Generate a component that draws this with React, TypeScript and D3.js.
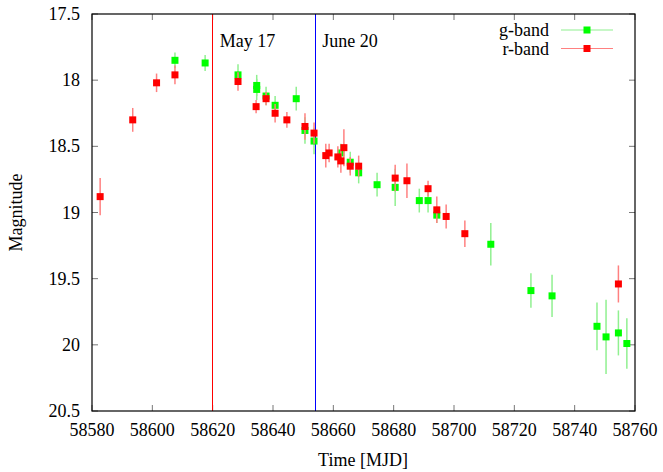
import * as d3 from 'd3';

// g-band observations
const gMjd = [58607.5, 58617.5, 58628.4, 58634.6, 58634.6, 58637.7, 58640.7, 58647.7, 58650.6, 58653.6, 58662.5, 58665.6, 58668.4, 58674.5, 58680.5, 58688.5, 58691.4, 58694.3, 58712.2, 58725.5, 58732.5, 58747.4, 58750.4, 58754.5, 58757.3];
const gMag = [17.85, 17.87, 17.96, 18.04, 18.07, 18.12, 18.19, 18.14, 18.38, 18.46, 18.55, 18.62, 18.7, 18.79, 18.81, 18.91, 18.91, 19.02, 19.24, 19.59, 19.63, 19.86, 19.94, 19.91, 19.99];
const gErr = [0.06, 0.06, 0.08, 0.08, 0.08, 0.07, 0.07, 0.09, 0.1, 0.1, 0.07, 0.08, 0.08, 0.09, 0.14, 0.09, 0.09, 0.06, 0.16, 0.13, 0.16, 0.18, 0.28, 0.17, 0.19];

// r-band observations
const rMjd = [58582.7, 58593.5, 58601.4, 58607.5, 58628.4, 58634.4, 58637.7, 58640.7, 58644.6, 58650.6, 58653.6, 58657.5, 58658.6, 58661.5, 58662.5, 58663.5, 58665.6, 58668.4, 58680.5, 58684.4, 58691.4, 58694.3, 58697.4, 58703.6, 58754.5];
const rMag = [18.88, 18.3, 18.02, 17.96, 18.01, 18.2, 18.14, 18.25, 18.3, 18.35, 18.4, 18.57, 18.55, 18.58, 18.61, 18.51, 18.65, 18.65, 18.74, 18.76, 18.82, 18.98, 19.03, 19.16, 19.54];
const rErr = [0.14, 0.09, 0.07, 0.07, 0.07, 0.05, 0.05, 0.07, 0.06, 0.1, 0.08, 0.09, 0.07, 0.08, 0.09, 0.14, 0.07, 0.08, 0.1, 0.13, 0.06, 0.1, 0.09, 0.1, 0.14];

const xTicks = [58580, 58600, 58620, 58640, 58660, 58680, 58700, 58720, 58740, 58760];
const yTicks = [17.5, 18, 18.5, 19, 19.5, 20, 20.5];

// epochs marked with vertical lines
const markers = [
  { mjd: 58620, label: 'May 17', color: '#ff0000' },
  { mjd: 58654, label: 'June 20', color: '#0000ff' },
];

const W = 663;
const H = 472;
const m = { left: 92, right: 28, top: 14, bottom: 61 };
const font = '"Liberation Serif", "Times New Roman", serif';

export default function App() {
  const x = d3.scaleLinear().domain([58580, 58760]).range([m.left, W - m.right]);
  const y = d3.scaleLinear().domain([17.5, 20.5]).range([m.top, H - m.bottom]);
  const sq = 7;

  const series = [
    { name: 'g-band', mjd: gMjd, mag: gMag, err: gErr, fill: '#00ff00', bar: '#90f090' },
    { name: 'r-band', mjd: rMjd, mag: rMag, err: rErr, fill: '#ff0000', bar: '#ff8080' },
  ];

  return (
    <svg width={W} height={H} style={{ position: 'absolute', left: 0, top: 0, background: '#fff' }} fontFamily={font}>
      <rect x={0} y={0} width={W} height={H} fill="#fff" />

      {/* ticks on all sides */}
      {xTicks.map(t => (
        <g key={'xt' + t} stroke="#777" strokeWidth={1}>
          <line x1={x(t)} x2={x(t)} y1={y(20.5)} y2={y(20.5) - 6} />
          <line x1={x(t)} x2={x(t)} y1={y(17.5)} y2={y(17.5) + 6} />
        </g>
      ))}
      {yTicks.map(t => (
        <g key={'yt' + t} stroke="#777" strokeWidth={1}>
          <line x1={x(58580)} x2={x(58580) + 6} y1={y(t)} y2={y(t)} />
          <line x1={x(58760)} x2={x(58760) - 6} y1={y(t)} y2={y(t)} />
        </g>
      ))}

      {xTicks.map(t => (
        <text key={'xl' + t} x={x(t)} y={436} textAnchor="middle" fontSize={18}>{t}</text>
      ))}
      {yTicks.map(t => (
        <text key={'yl' + t} x={80} y={y(t) + 6} textAnchor="end" fontSize={18}>{t}</text>
      ))}

      {/* epoch lines */}
      {markers.map(d => (
        <g key={d.label}>
          <line x1={x(d.mjd)} x2={x(d.mjd)} y1={y(17.5)} y2={y(20.5)} stroke={d.color} strokeWidth={1.3}
            shapeRendering="crispEdges" />
          <text x={x(d.mjd) + 7} y={47} fontSize={18}>{d.label}</text>
        </g>
      ))}

      {/* data */}
      {series.map(s => (
        <g key={s.name}>
          {s.mjd.map((t, i) => (
            <line key={'e' + i} x1={x(t)} x2={x(t)} y1={y(s.mag[i] - s.err[i])} y2={y(s.mag[i] + s.err[i])}
              stroke={s.bar} strokeWidth={1.5} />
          ))}
          {s.mjd.map((t, i) => (
            <rect key={'p' + i} x={x(t) - sq / 2} y={y(s.mag[i]) - sq / 2} width={sq} height={sq} fill={s.fill} />
          ))}
        </g>
      ))}

      {/* legend */}
      {series.map((s, i) => {
        const ly = 30 + i * 18.5;
        return (
          <g key={'lg' + s.name}>
            <text x={549} y={ly + 6} textAnchor="end" fontSize={18}>{s.name}</text>
            <line x1={561} x2={613} y1={ly} y2={ly} stroke={s.bar} strokeWidth={1.2} />
            <rect x={587 - sq / 2} y={ly - sq / 2} width={sq} height={sq} fill={s.fill} />
          </g>
        );
      })}

      {/* frame */}
      <rect x={m.left} y={m.top} width={W - m.left - m.right} height={H - m.top - m.bottom}
        fill="none" stroke="#000" strokeWidth={1.2} />

      <text x={363} y={466} textAnchor="middle" fontSize={18}>Time [MJD]</text>
      <text transform={`translate(22, ${(m.top + H - m.bottom) / 2}) rotate(-90)`} textAnchor="middle" fontSize={18}>Magnitude</text>
    </svg>
  );
}
